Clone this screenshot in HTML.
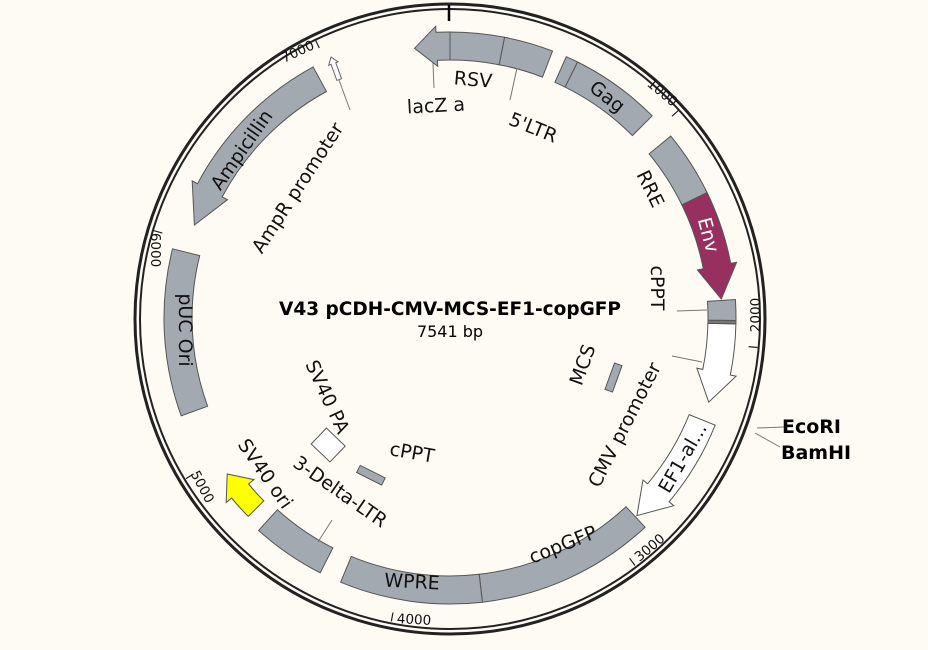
<!DOCTYPE html>
<html><head><meta charset="utf-8">
<style>
html,body{margin:0;padding:0;background:#fdfbf3;}
svg{display:block}
text{font-family:"DejaVu Sans","Liberation Sans",sans-serif;}
</style></head>
<body>
<svg id="s" width="928" height="650" viewBox="0 0 928 650" xmlns="http://www.w3.org/2000/svg">
<rect width="928" height="650" fill="#fdfbf3"/>
<circle cx="450" cy="319" r="315" fill="none" stroke="#222" stroke-width="3"/>
<circle cx="450" cy="319" r="310" fill="none" stroke="#222" stroke-width="2"/>
<line x1="449" y1="5" x2="449" y2="21" stroke="#000" stroke-width="2.5"/>
<g id="f"></g>
<g transform="translate(331,57) rotate(-20)">
<path d="M0,0 L5,7 L2.5,7 L2.5,24 L-2.5,24 L-2.5,7 L-5,7 Z" fill="#fff" stroke="#666" stroke-width="1"/>
</g>
<g font-size="19" fill="#111">
<text x="473" y="86" text-anchor="middle" transform="rotate(5 473 80)">RSV</text>
<text x="436" y="112" text-anchor="middle" transform="rotate(-3 436 106)">lacZ a</text>
<text x="533" y="134" text-anchor="middle" transform="rotate(22 533 128)">5'LTR</text>
<text x="607" y="103" text-anchor="middle" transform="rotate(38 607 97)">Gag</text>
<text x="650" y="195" text-anchor="middle" transform="rotate(64 650 189)">RRE</text>
<text x="708" y="241" text-anchor="middle" fill="#fff" transform="rotate(75 708 235)">Env</text>
<text x="657" y="294" text-anchor="middle" transform="rotate(90 657 288)">cPPT</text>
<text x="583" y="371" text-anchor="middle" transform="rotate(-70 583 365)">MCS</text>
<text x="625" y="431" text-anchor="middle" transform="rotate(-63 625 425)">CMV promoter</text>
<text x="683" y="464" text-anchor="middle" transform="rotate(-60 683 458)">EF1-al...</text>
<text x="563" y="551" text-anchor="middle" transform="rotate(-22 563 545)">copGFP</text>
<text x="412" y="588" text-anchor="middle" transform="rotate(3 412 582)">WPRE</text>
<text x="340" y="498" text-anchor="middle" transform="rotate(35 340 492)">3-Delta-LTR</text>
<text x="265" y="480" text-anchor="middle" transform="rotate(55 265 474)">SV40 ori</text>
<text x="327" y="403" text-anchor="middle" transform="rotate(65 327 397)">SV40 PA</text>
<text x="412" y="459" text-anchor="middle" transform="rotate(10 412 453)">cPPT</text>
<text x="185" y="336" text-anchor="middle" transform="rotate(90 185 330)">pUC Ori</text>
<text x="242" y="156" text-anchor="middle" transform="rotate(-55 242 150)">Ampicillin</text>
<text x="298" y="194" text-anchor="middle" transform="rotate(-57 298 188)">AmpR promoter</text>
</g>
<g font-size="13.5" fill="#111">
<text x="662" y="97" text-anchor="middle" transform="rotate(40 662 93)">1000</text>
<text x="756" y="319" text-anchor="middle" transform="rotate(-90 756 315)">2000</text>
<text x="650" y="552" text-anchor="middle" transform="rotate(-40 650 548)">3000</text>
<text x="414" y="624" text-anchor="middle" transform="rotate(3 414 620)">4000</text>
<text x="202" y="491" text-anchor="middle" transform="rotate(62 202 487)">5000</text>
<text x="155" y="254" text-anchor="middle" transform="rotate(90 155 250)">6000</text>
<text x="298" y="56" text-anchor="middle" transform="rotate(-25 298 52)">7000</text>
</g>
<text x="450" y="315" text-anchor="middle" font-size="18.5" font-weight="bold" fill="#000">V43 pCDH-CMV-MCS-EF1-copGFP</text>
<text x="450" y="337" text-anchor="middle" font-size="16" fill="#000">7541 bp</text>
<g stroke="#777" stroke-width="1" fill="none">
<line x1="757" y1="428" x2="784" y2="427"/>
<line x1="755" y1="433" x2="780" y2="447"/>
<line x1="433" y1="63" x2="434" y2="88"/>
<line x1="517" y1="68" x2="510" y2="100"/>
<line x1="707" y1="310" x2="677" y2="311"/>
<line x1="702" y1="362" x2="672" y2="356"/>
<line x1="332" y1="520" x2="318" y2="542"/>
<line x1="339" y1="80" x2="350" y2="110"/>
</g>
<text x="782" y="433" font-size="19" font-weight="bold" fill="#000">EcoRI</text>
<text x="781" y="459" font-size="19" font-weight="bold" fill="#000">BamHI</text>
</svg>
<script>
var cx=450,cy=318,NS="http://www.w3.org/2000/svg",g=document.getElementById("f");
function P(a,r){var t=a*Math.PI/180;return (cx+r*Math.sin(t)).toFixed(1)+","+(cy-r*Math.cos(t)).toFixed(1);}
function arc(a1,a2,r){var lg=Math.abs(a2-a1)>180?1:0,sw=a2>a1?1:0;return "A"+r+","+r+" 0 "+lg+" "+sw+" "+P(a2,r);}
function add(d,fill,sw){var p=document.createElementNS(NS,"path");p.setAttribute("d",d);p.setAttribute("fill",fill);p.setAttribute("stroke","#555");p.setAttribute("stroke-width",sw||1);p.setAttribute("stroke-linejoin","miter");g.appendChild(p);}
function band(a1,a2,r1,r2,fill){add("M"+P(a1,r2)+arc(a1,a2,r2)+"L"+P(a2,r1)+arc(a2,a1,r1)+"Z",fill);}
function arrowCW(a1,ah,a2,r1,r2,w,fill){var m=(r1+r2)/2;add("M"+P(a1,r2)+arc(a1,ah,r2)+"L"+P(ah,r2+w)+"L"+P(a2,m)+"L"+P(ah,r1-w)+"L"+P(ah,r1)+arc(ah,a1,r1)+"Z",fill);}
var arrowCCW=arrowCW;
var R1=258,R2=286,G="#a3a9b1";
arrowCCW(0,-2.8,-7.5,R1,R2,6,G);
band(0,11,R1,R2,G);band(11,21,R1,R2,G);
band(24,26.5,R1,R2,G);band(26.5,45,R1,R2,G);
band(50.5,64,R1,R2,G);
arrowCW(64,79,86,R1,R2,6,"#98305f");
band(86.3,90.5,R1,R2,G);band(90.5,91.2,R1,R2,"#777");
arrowCW(91.2,101.5,108,R1,R2,6,"#fff");
arrowCW(112,130,136.6,R1,R2,6,"#fff");
band(137,173.5,R1,R2,G);band(173.5,202.5,R1,R2,G);
band(207,222,R1,R2,G);
arrowCW(225.5,230.5,235,R1+3,R2-3,7,"#ffff00");
band(250,284,R1,R2,G);
arrowCCW(331.4,298,290,R1,R2,6,G);
function rbox(a,r,w,h,fill){var t=a*Math.PI/180,x=cx+r*Math.sin(t),y=cy-r*Math.cos(t);var p=document.createElementNS(NS,"rect");p.setAttribute("x",x-w/2);p.setAttribute("y",y-h/2);p.setAttribute("width",w);p.setAttribute("height",h);p.setAttribute("fill",fill);p.setAttribute("stroke","#555");p.setAttribute("transform","rotate("+a+" "+x+" "+y+")");g.appendChild(p);}
rbox(110,174,28,8,G);
rbox(206.7,176,28,8,G);
rbox(223.8,176,26,22,"#fff");
[1000,2000,3000,4000,5000,6000,7000].forEach(function(b){var a=b/7541*360;var l=document.createElementNS(NS,"line");var s=P(a,309).split(","),e=P(a,300).split(",");l.setAttribute("x1",s[0]);l.setAttribute("y1",s[1]);l.setAttribute("x2",e[0]);l.setAttribute("y2",e[1]);l.setAttribute("stroke","#222");l.setAttribute("stroke-width","1.2");g.appendChild(l);});
</script>
</body></html>
